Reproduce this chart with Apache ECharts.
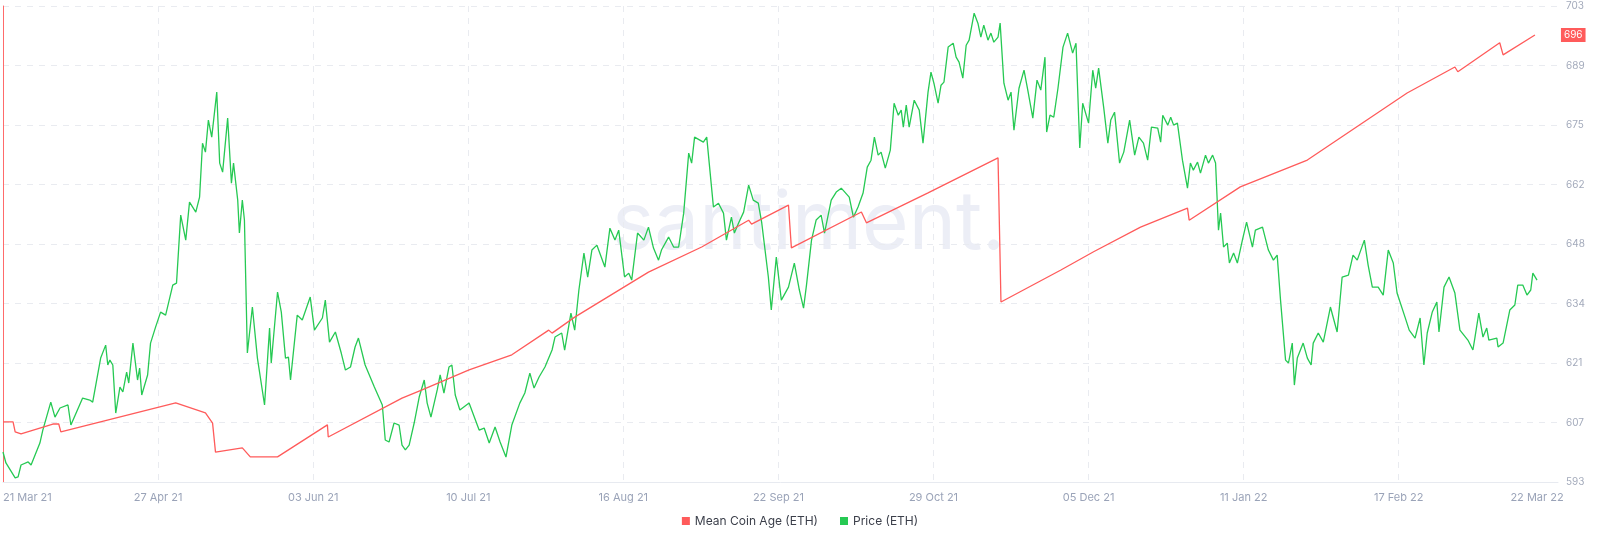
<!DOCTYPE html>
<html>
<head>
<meta charset="utf-8">
<script src="https://cdn.jsdelivr.net/npm/echarts@6/dist/echarts.min.js"></script>
<style>
  html, body { margin: 0; padding: 0; background: #fff; }
  #chart { width: 1600px; height: 542px; }
</style>
</head>
<body>
<div id="chart"></div>
<script>
// x values are days since 21 Mar 21
var startDate = new Date(2021, 2, 21);
var xTickDays = [0, 37, 74, 111, 148, 185, 222, 259, 296, 333];
var xLabelDays = [0, 37, 74, 111, 148, 185, 222, 259, 296, 333, 366];
var yTickLabels = ['593', '607', '621', '634', '648', '662', '675', '689', '703'];

// Mean Coin Age (ETH), [day, value]
var coinAge = [
    [0, 606.9], [2.4, 606.9], [2.9, 604.6], [4.3, 604.1], [11.9, 606.4], [13.3, 606.4], [13.8, 604.6],
    [41.2, 611.3], [48.3, 609.0], [50, 606.6], [50.7, 599.9], [57.1, 600.9], [59, 598.8], [65.5, 598.8],
    [77.4, 606.2], [77.6, 603.4], [95.2, 612.4], [100, 614.3], [111.2, 618.9], [121.4, 622.4],
    [130.2, 628.1], [131, 627.4], [136.4, 631.1], [154, 641.5], [166.7, 647.3], [177.9, 653.5],
    [178.6, 652.6], [187.4, 657.0], [188.1, 647.1], [204.8, 655.4], [206, 652.9], [220.7, 659.8],
    [237.4, 667.9], [238.1, 634.6], [252.4, 642.0], [260.2, 646.2], [271.4, 651.9], [282.6, 656.3],
    [283, 653.5], [295.2, 661.2], [311.2, 667.4], [335, 682.9], [346.4, 688.9], [347.1, 687.8],
    [357.1, 694.5], [357.9, 691.7], [365.5, 696.3]
];

// Price (ETH), [day, usd]
var price = [
    [0, 1808], [0.7, 1732], [2.9, 1628], [3.6, 1635], [4.3, 1718], [6, 1739], [6.7, 1718], [8.8, 1870],
    [9.5, 1960], [11.4, 2154], [12.4, 2050], [13.6, 2113], [15.5, 2134], [16.2, 1995], [19, 2182],
    [20.7, 2168], [21.4, 2154], [23.3, 2459], [24.5, 2549], [25, 2411], [25.5, 2445], [26.2, 2411],
    [26.9, 2078], [27.9, 2258], [28.6, 2224], [29.5, 2362], [30, 2286], [31, 2563], [32.1, 2307],
    [32.6, 2390], [33.1, 2203], [34.5, 2342], [35.2, 2563], [36.4, 2674], [37.6, 2778], [38.8, 2757],
    [40.5, 2965], [41.4, 2979], [42.4, 3450], [43.6, 3277], [44.5, 3540], [46, 3471], [46.9, 3575],
    [47.6, 3949], [48.3, 3887], [49, 4109], [49.8, 3991], [51, 4303], [51.7, 3811], [52.4, 3748],
    [53.6, 4123], [54.5, 3672], [55, 3811], [56, 3554], [56.4, 3326], [57.1, 3554], [57.6, 3416],
    [58.3, 2494], [59.5, 2813], [60.7, 2459], [62.4, 2134], [63.6, 2667], [64, 2425], [65.5, 2917],
    [66.4, 2778], [67.4, 2459], [68.1, 2466], [68.6, 2307], [70.2, 2757], [71.4, 2723], [73.3, 2882],
    [74.3, 2653], [76.2, 2737], [76.9, 2861], [77.9, 2570], [79.3, 2640], [80.7, 2494], [81.7, 2376],
    [82.9, 2397], [84, 2536], [84.8, 2598], [86.4, 2411], [88.6, 2258], [90.5, 2134], [91.2, 1891],
    [92.1, 1877], [93.3, 2009], [94.5, 1995], [95.2, 1856], [96, 1822], [96.9, 1856], [98.1, 2009],
    [99.3, 2189], [100.5, 2307], [101.2, 2147], [102.1, 2050], [103.6, 2238], [104.3, 2342],
    [105.2, 2217], [106.4, 2397], [107.1, 2411], [107.9, 2203], [109, 2099], [111.2, 2147],
    [113.6, 1960], [114.8, 1974], [116, 1870], [117.4, 1981], [118.6, 1877], [120, 1773], [121.4, 1995],
    [123.3, 2147], [124.5, 2217], [125.7, 2355], [126.7, 2251], [127.9, 2328], [129.3, 2397],
    [131, 2515], [131.7, 2605], [133.3, 2633], [134, 2515], [135.5, 2771], [136.4, 2653], [137.4, 2931],
    [138.6, 3187], [139.5, 3021], [140.5, 3208], [141.7, 3242], [143.6, 3090], [144.8, 3360],
    [146, 3277], [146.9, 3346], [148.3, 3021], [149.3, 3048], [150, 3000], [151.4, 3326], [152.9, 3277],
    [154, 3367], [155.2, 3222], [156.4, 3138], [157.1, 3208], [158.8, 3298], [160, 3229], [161.2, 3229],
    [162.4, 3464], [163.6, 3880], [164.3, 3811], [165, 3991], [167.1, 3956], [167.9, 3991],
    [169.5, 3506], [170.7, 3533], [171.9, 3464], [172.6, 3277], [173.8, 3436], [174.5, 3326],
    [175.5, 3395], [176.7, 3471], [177.9, 3658], [179, 3554], [180.2, 3533], [181, 3402], [182.6, 3021],
    [183.3, 2792], [184.5, 3159], [185.7, 2861], [187.4, 2951], [188.8, 3118], [190, 2931], [191, 2806],
    [191.7, 2965], [192.9, 3277], [194, 3416], [195.2, 3450], [196, 3326], [197.6, 3554], [198.8, 3610],
    [200, 3637], [201.9, 3575], [202.9, 3436], [204, 3506], [205.2, 3603], [206.2, 3783], [207.1, 3831],
    [207.9, 3991], [208.8, 3866], [209.5, 3887], [210.5, 3776], [211.7, 3901], [212.6, 4226],
    [213.6, 4143], [214.3, 4178], [214.8, 4060], [215.5, 4213], [216.2, 4060], [217.4, 4247],
    [218.6, 4178], [219.5, 3949], [220.7, 4303], [221.4, 4441], [222.1, 4365], [223.1, 4226],
    [223.8, 4351], [224.5, 4372], [225.5, 4615], [226.7, 4642], [227.4, 4545], [228.1, 4511],
    [229, 4400], [229.8, 4628], [230.5, 4663], [231.7, 4850], [232.6, 4781], [233.3, 4684], [234, 4767],
    [235, 4663], [235.7, 4712], [236.4, 4649], [237.4, 4684], [237.9, 4781], [238.8, 4365], [239.8, 4247],
    [240.5, 4303], [241.2, 4039], [242.4, 4330], [243.6, 4455], [244.5, 4317], [245.7, 4123],
    [246.7, 4386], [247.6, 4317], [248.6, 4545], [249, 4026], [249.8, 4143], [250.7, 4129], [251.7, 4330],
    [252.9, 4615], [254, 4712], [255.2, 4573], [256, 4642], [256.9, 3915], [257.6, 4226], [259, 4088],
    [260, 4455], [260.7, 4330], [261.4, 4469], [262.6, 4199], [263.6, 3949], [264.3, 4109], [265.2, 4164],
    [266.4, 3811], [267.4, 3887], [268.8, 4109], [270, 3866], [271, 3991], [272.1, 3949], [273.1, 3831],
    [274, 4060], [275.5, 4053], [276.2, 3956], [276.7, 4143], [277.9, 4074], [278.6, 4129], [279.3, 4074],
    [280.2, 4088], [281.4, 3831], [282.6, 3637], [283.3, 3811], [284, 3762], [285, 3818], [285.7, 3741],
    [286.9, 3866], [287.6, 3811], [288.6, 3866], [289.3, 3811], [290, 3346], [290.5, 3464], [291.2, 3229],
    [292.1, 3256], [292.6, 3118], [293.6, 3187], [294.5, 3118], [295.7, 3277], [296.7, 3402],
    [298.1, 3229], [298.8, 3346], [300.5, 3367], [301.9, 3208], [303.1, 3138], [304, 3173], [304.8, 2861],
    [306, 2445], [306.7, 2425], [307.6, 2563], [308.1, 2272], [308.8, 2459], [310.2, 2563], [311.2, 2459],
    [312.1, 2411], [312.6, 2563], [313.8, 2633], [315, 2570], [316.7, 2813], [318.3, 2640], [319.5, 3021],
    [321, 3034], [322.1, 3173], [323.1, 3138], [324.8, 3277], [325.7, 3104], [326.7, 2951], [328.1, 2951],
    [329.3, 2896], [330.5, 3208], [331.7, 3118], [332.6, 2910], [334.5, 2743], [335.5, 2653],
    [336.9, 2598], [338.1, 2737], [339, 2411], [339.8, 2633], [341, 2778], [342.1, 2847], [342.6, 2640],
    [343.8, 2951], [345, 3021], [346.4, 2910], [347.6, 2653], [349.5, 2584], [350.7, 2515], [351.2, 2605],
    [352.1, 2771], [353.1, 2605], [354, 2667], [354.5, 2584], [356.4, 2598], [356.7, 2536], [357.9, 2563],
    [359.5, 2792], [360.7, 2827], [361.4, 2965], [362.6, 2965], [363.6, 2896], [364.5, 2931], [365, 3048],
    [366, 3000]
];

var months = ['Jan', 'Feb', 'Mar', 'Apr', 'May', 'Jun', 'Jul', 'Aug', 'Sep', 'Oct', 'Nov', 'Dec'];
function dayLabel(v) {
    var d = new Date(startDate.getTime());
    d.setDate(d.getDate() + Math.round(v));
    var dd = d.getDate() < 10 ? '0' + d.getDate() : '' + d.getDate();
    return dd + ' ' + months[d.getMonth()] + ' ' + String(d.getFullYear()).slice(2);
}

var yMin = 593, yMax = 703;
var yStep = (yMax - yMin) / (yTickLabels.length - 1);
var yTickValues = yTickLabels.map(function (t, i) { return yMin + i * yStep; });

var myChart = echarts.init(document.getElementById('chart'));
var option = {
    animation: false,
    backgroundColor: '#fff',
    textStyle: { fontFamily: 'Inter, "Noto Sans", sans-serif' },
    graphic: [{
        type: 'text', left: 612, top: 185, z: 0, silent: true,
        style: { text: 'santiment.', fontSize: 80, fontFamily: 'Inter, sans-serif', fontWeight: 400, fill: '#eceef6' }
    }],
    legend: {
        bottom: 10, left: 'center', icon: 'rect', itemWidth: 8, itemHeight: 8, itemGap: 22,
        textStyle: { color: '#3b3f4a', fontSize: 12 },
        data: ['Mean Coin Age (ETH)', 'Price (ETH)']
    },
    grid: { left: 0, right: 42, top: 6, bottom: 60 },
    xAxis: {
        type: 'value', min: 0, max: 371,
        axisLine: { show: true, lineStyle: { color: '#e7eaf0' } },
        axisTick: { show: false, customValues: xTickDays },
        axisLabel: {
            customValues: xLabelDays, color: '#9aa3b8', fontSize: 11, margin: 10,
            alignMinLabel: 'left', formatter: dayLabel
        },
        splitLine: { show: true, lineStyle: { color: '#e9ebf0', type: [6, 6] } }
    },
    yAxis: [{
        type: 'value', position: 'right', min: yMin, max: yMax,
        axisLine: { show: true, lineStyle: { color: '#ff6b6b', width: 1 } },
        axisTick: { show: false, customValues: yTickValues },
        axisLabel: {
            customValues: yTickValues, color: '#a3aabb', fontSize: 10, margin: 8,
            formatter: function (v) {
                var i = Math.round((v - yMin) / yStep);
                return yTickLabels[i];
            }
        },
        splitLine: { show: true, lineStyle: { color: '#e9ebf0', type: [6, 6] } }
    }, {
        type: 'value', min: 1600, max: 4900, show: false, splitLine: { show: false }
    }],
    series: [{
        name: 'Mean Coin Age (ETH)', type: 'line', yAxisIndex: 0, data: coinAge,
        showSymbol: false, symbol: 'none', color: '#ff5b5b',
        lineStyle: { width: 1.3, color: '#ff5b5b' },
        endLabel: {
            show: true, distance: 26, color: '#fff', backgroundColor: '#ff5b5b', fontSize: 10,
            padding: [2, 3], formatter: function (p) { return Math.round(p.value[1]); }
        },
        z: 3
    }, {
        name: 'Price (ETH)', type: 'line', yAxisIndex: 1, data: price,
        showSymbol: false, symbol: 'none', color: '#26c953',
        lineStyle: { width: 1.3, color: '#26c953' },
        z: 2
    }]
};
myChart.setOption(option);
</script>
</body>
</html>
